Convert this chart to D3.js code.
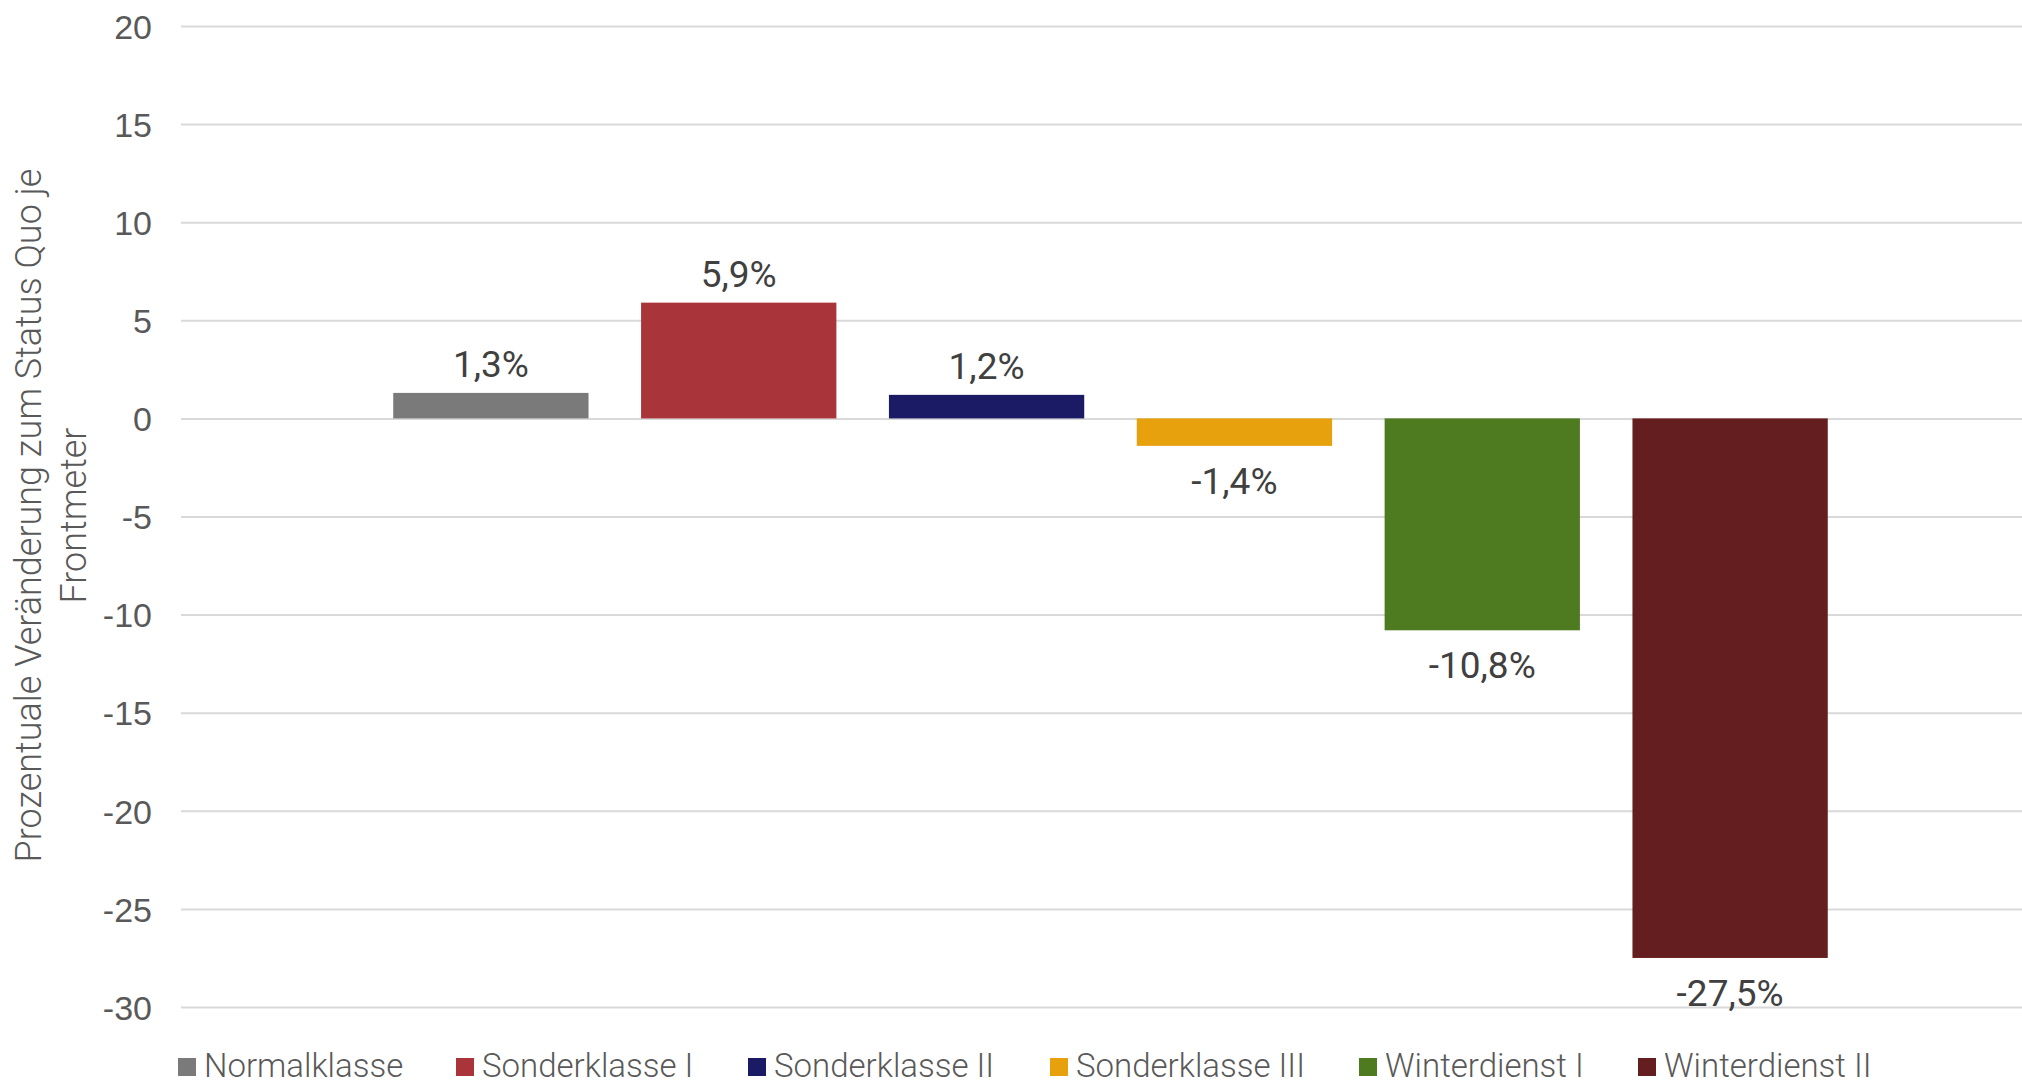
<!DOCTYPE html>
<html>
<head>
<meta charset="utf-8">
<script src="https://cdn.jsdelivr.net/npm/d3@7"></script>
<style>
   body { margin: 0; background: #fff; }
   svg { display: block; font-family: Roboto, "Open Sans", sans-serif; }
</style>
</head>
<body>
<div class="chart-container"></div>
<script>
// data
const series = ['Normalklasse', 'Sonderklasse I', 'Sonderklasse II', 'Sonderklasse III', 'Winterdienst I', 'Winterdienst II'];
const values = [1.3, 5.9, 1.2, -1.4, -10.8, -27.5];
const colors = ['#7a7a7a', '#a9353a', '#1b1a64', '#e6a10c', '#4e7a20', '#651e1f'];
const y_ticks = [20, 15, 10, 5, 0, -5, -10, -15, -20, -25, -30];
const y_title = ['Prozentuale Veränderung zum Status Quo je', 'Frontmeter'];

const W = 2022, H = 1084;
const plot = {left: 181, right: 2022, top: 26, bottom: 1007};

const svg = d3.select('.chart-container')
   .append('svg')
   .attr('width', W)
   .attr('height', H);

const y_scale = d3.scaleLinear()
   .domain([-30, 20])
   .range([plot.bottom, plot.top]);

const x_scale = d3.scaleBand()
   .domain(series)
   .range([plot.left + 9, plot.right + 9])
   .paddingInner(0.212)
   .paddingOuter(0.82);

// grid + tick labels
const y_axis = d3.axisLeft(y_scale)
   .tickValues(y_ticks)
   .tickFormat(d => d)
   .tickSizeInner(-(plot.right - plot.left))
   .tickSizeOuter(0)
   .tickPadding(29);

const axis_g = svg.append('g')
   .attr('class', 'y axis')
   .attr('transform', `translate(${plot.left}, 0)`)
   .call(y_axis);

axis_g.select('.domain').remove();
axis_g.selectAll('line')
   .attr('stroke', '#d9d9d9')
   .attr('stroke-width', 2);
axis_g.selectAll('text')
   .attr('fill', '#595959')
   .style('font-size', '34px')
   .style('font-weight', 300)
   .attr('dy', '0.36em');

// bars
svg.append('g')
   .attr('class', 'bars')
   .selectAll('.bar')
   .data(values)
   .join('rect')
   .attr('class', 'bar')
   .attr('x', (d, i) => x_scale(series[i]))
   .attr('width', x_scale.bandwidth())
   .attr('y', d => y_scale(Math.max(0, d)))
   .attr('height', d => Math.abs(y_scale(d) - y_scale(0)))
   .attr('fill', (d, i) => colors[i]);

// value labels
const fmt = d => d.toFixed(1).replace('.', ',') + '%';
svg.append('g')
   .attr('class', 'labels')
   .selectAll('text')
   .data(values)
   .join('text')
   .attr('x', (d, i) => x_scale(series[i]) + x_scale.bandwidth() / 2)
   .attr('y', d => d >= 0 ? y_scale(d) - 16 : y_scale(d) + 48)
   .attr('text-anchor', 'middle')
   .attr('fill', '#404040')
   .style('font-size', '37px')
   .text(fmt);

// y axis title, two lines
svg.append('text')
   .attr('transform', `translate(41, ${(plot.top + plot.bottom) / 2 - 1}) rotate(-90)`)
   .attr('text-anchor', 'middle')
   .attr('fill', '#595959')
   .style('font-size', '36px')
   .style('font-weight', 300)
   .selectAll('tspan')
   .data(y_title)
   .join('tspan')
   .attr('x', 0)
   .attr('dy', (d, i) => i === 0 ? 0 : 45)
   .text(d => d);

// legend
const legend_x = [178, 456, 748, 1050, 1359, 1638];
const legend = svg.append('g')
   .attr('class', 'legend')
   .selectAll('g')
   .data(series)
   .join('g')
   .attr('transform', (d, i) => `translate(${legend_x[i]}, 1058)`);

legend.append('rect')
   .attr('width', 18)
   .attr('height', 18)
   .attr('fill', (d, i) => colors[i]);

legend.append('text')
   .attr('x', 26)
   .attr('y', 19)
   .attr('fill', '#595959')
   .style('font-size', '33px')
   .style('font-weight', 300)
   .text(d => d);
</script>
</body>
</html>
